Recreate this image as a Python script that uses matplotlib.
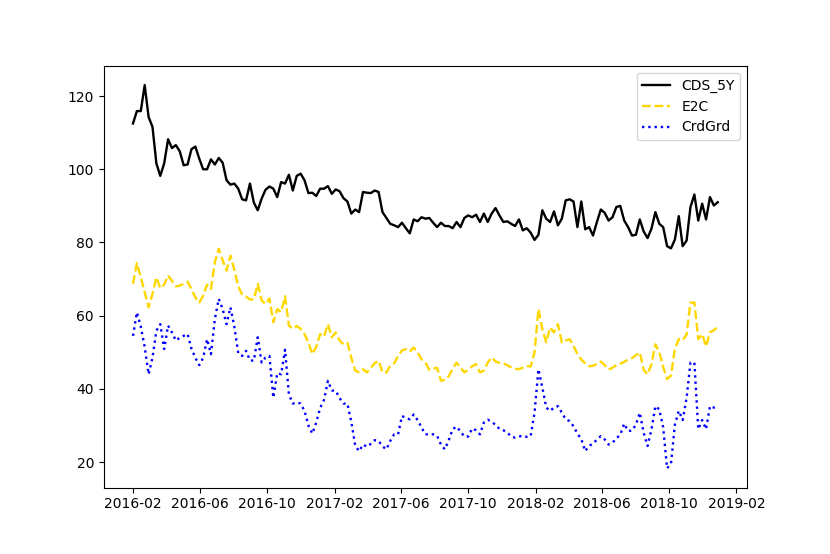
#!/usr/bin/env python3
import matplotlib
matplotlib.use('Agg')
import matplotlib.pyplot as plt
import matplotlib.dates as mdates
import pandas as pd

# weekly series
cds_5y = [112.5, 115.9, 115.9, 123, 114.3, 111.6, 101.6, 98.2, 101.6, 108.2,
          105.8, 106.6, 104.9, 101.1, 101.3, 105.5, 106.2, 102.9, 100, 100,
          102.7, 101.3, 103.1, 101.8, 97, 95.8, 96.1, 94.7, 91.8, 91.5,
          96.1, 90.9, 88.8, 92, 94.4, 95.3, 94.7, 92.4,
          96.5, 96.1, 98.5, 94.2, 98.2, 98.8, 97, 93.5, 93.6, 92.7,
          94.7, 94.7, 95.4, 93.3, 94.5, 94, 92.1, 91.2, 87.9, 89,
          88.3, 93.8, 93.6, 93.5, 94.2, 93.8, 88.3, 86.7, 85.1, 84.7,
          84.2, 85.4, 83.9, 82.5, 86.3, 85.8, 86.9,
          86.5, 86.7, 85.4, 84.2, 85.4, 84.5, 84.5, 83.9, 85.6, 84.2,
          86.7, 87.4, 86.9, 87.6, 85.6, 87.9, 85.6, 87.9, 89.4, 87.4,
          85.6, 85.8, 85.1, 84.5, 86.3, 83.3, 83.9, 82.7, 80.7, 82.1,
          88.8, 86.5, 85.6, 88.5, 84.7, 86.5, 91.5,
          91.8, 91.2, 84.2, 91.2, 83.6, 84.2, 81.9, 85.6, 89, 88.1,
          86, 86.9, 89.7, 90, 86, 84.2, 81.9, 82.1, 86.3, 83,
          81.2, 83.8, 88.3, 85.1, 84.2, 79, 78.4, 80.8, 87.2, 79,
          80.5, 89.7, 93.1, 86, 90.6, 86.3, 92.4, 90.1, 91]

e2c = [68.7, 74.4, 70.5, 66.4, 62.3, 66, 70.5, 67.5, 68.5, 71,
       69.5, 68, 68.2, 68.8, 69.3, 67.2, 65, 63.6, 65.5, 68.5,
       67.3, 74.6, 78.3, 75.1, 72.3, 76.4, 72.5, 68, 65.8, 65.2,
       64.4, 64.5, 68.7, 64.2, 63.2, 64.7, 58.2, 61.8, 61, 65.3,
       57.3, 56.4, 57.2, 56.4, 55, 52.7, 49.5, 51.5, 55, 54.3,
       57.7, 54.1, 55.4, 53.2, 52.2, 52.6, 48.5, 45, 44.6, 45.4,
       44.5, 45.8, 47, 47.7, 44.5, 44.5, 46.3, 47, 49, 50.5,
       50.9, 50.2, 51.3, 50, 48.1, 47.2, 45.2, 45.5, 45.8, 42.2,
       42.5, 43.5, 45.5, 47.2, 45.8, 44.5, 45.3, 46.2, 46.8, 44.5,
       45, 47.2, 48.6, 47.5, 47.1, 47, 46.5, 45.9, 45.5, 45.4,
       45.8, 46.3, 46.1, 50, 61.8, 56.4, 52.7, 56.8, 55.4, 57.7,
       52.7, 53.2, 53.6, 51.8, 49.5, 48, 47, 46.2, 46.3, 46.8,
       47.5, 46.5, 45.3, 45.8, 46.5, 46.9, 47.4, 48, 48.4, 49.2,
       50, 45.2, 44, 46.8, 52.2, 50, 46, 42.7, 43.6, 51,
       53.6, 53.3, 54.8, 63.6, 63.6, 53.6, 55, 51.6, 55.5, 56,
       57]

crdgrd = [54.5, 60.9, 57, 51.5, 44, 48.5, 55.9, 57.7, 50.9, 57.3,
          55.4, 53.2, 54, 54.5, 55, 51, 48.5, 46.5, 48.5, 53.6,
          49.5, 59.1, 64.6, 61.8, 57.7, 62.3, 57, 49.8, 49, 50.4,
          47.8, 47.7, 54.1, 47.2, 48.6, 49, 37.6, 44.3, 44, 50.7,
          38.5, 36, 36.3, 36, 34, 30, 27.8, 30.8, 34.8, 37,
          42.2, 39.6, 39.5, 37.5, 36, 36, 31, 24.5, 23, 24.8,
          24.2, 25, 26, 25.8, 24.3, 23.5, 25.8, 27.6, 27.6, 32.6,
          32.1, 31.7, 33, 31.5, 29.5, 27.6, 27.6, 27.6, 27.2, 24.8,
          23.5, 26, 29, 29.7, 28.4, 27, 27, 29.2, 28.7, 27.6,
          30.8, 31.6, 31, 30.2, 29.1, 28.7, 28.1, 27, 26.7, 27,
          27.2, 26.9, 27.1, 33.5, 45.4, 40.4, 34.9, 34, 34.9, 35.3,
          33.5, 31.7, 31.2, 29.8, 27.8, 26.3, 23, 24.5, 25, 26.2,
          27.1, 26.2, 24.8, 25.3, 26.5, 27.5, 30.5, 28.5, 28.6, 30.2,
          33.5, 28, 24.4, 29, 35.3, 34.4, 29.5, 18.3, 19.6, 30.2,
          34, 31.5, 37.5, 47.2, 47.2, 29, 31.5, 29, 35.3, 34.9,
          34.6]

dates = pd.date_range('2016-02-01', '2018-12-29', periods=len(cds_5y))

plt.figure(figsize=(8.3, 5.54), dpi=100)
plt.subplots_adjust(left=0.125, right=0.9, bottom=0.12, top=0.881)

plt.plot(dates, cds_5y, color='black', linestyle='-', linewidth=1.7, label='CDS_5Y')
plt.plot(dates, e2c, color='gold', linestyle='--', linewidth=1.7, label='E2C')
plt.plot(dates, crdgrd, color='blue', linestyle=':', linewidth=1.7, label='CrdGrd')

ax = plt.gca()
ax.xaxis.set_major_locator(mdates.MonthLocator(bymonth=[2, 6, 10]))
ax.xaxis.set_major_formatter(mdates.DateFormatter('%Y-%m'))

plt.legend(loc='upper right')

plt.savefig('out.png', dpi=100)
